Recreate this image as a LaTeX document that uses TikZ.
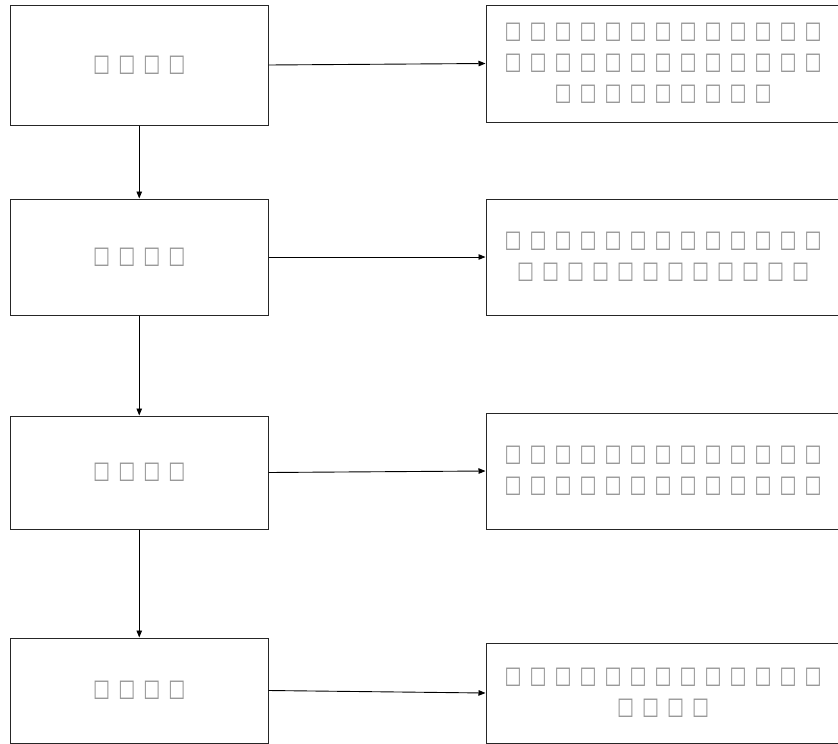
\documentclass[tikz,border=0pt]{standalone}
\usepackage{fontspec}
\newfontfamily\symfont[FakeStretch=0.75]{DejaVu Sans}
\usetikzlibrary{arrows.meta}
\newcount\tfcnt
\newcommand\tsq{\makebox[25pt]{□}}
\newcommand\trow[1]{\tfcnt=0 \loop\ifnum\tfcnt<#1 \tsq\advance\tfcnt by 1 \repeat}
\tikzset{
  box/.style={draw=black!85, line width=1pt, rectangle, inner sep=0pt, text=black!42,
    font=\symfont\fontsize{24pt}{31pt}\selectfont, align=center},
  lbox/.style={box, minimum width=257.5pt},
  rbox/.style={box, minimum width=354pt},
  arr/.style={line width=0.9pt, draw=black, -{Triangle[length=7pt,width=5.5pt]}}
}
\begin{document}
\begin{tikzpicture}[x=1pt,y=-1pt]
\useasboundingbox (0,0) rectangle (838,744);
\node[lbox, minimum height=120pt] (L1) at (139.25,65) {\trow{4}};
\node[lbox, minimum height=116pt] (L2) at (139.25,257) {\trow{4}};
\node[lbox, minimum height=113pt] (L3) at (139.25,472.5) {\trow{4}};
\node[lbox, minimum height=105pt] (L4) at (139.25,690.5) {\trow{4}};
\node[rbox, minimum height=117pt] (R1) at (663,63.5) {\trow{13}\\\trow{13}\\\trow{9}};
\node[rbox, minimum height=116pt] (R2) at (663,257) {\trow{13}\\\trow{12}};
\node[rbox, minimum height=116pt] (R3) at (663,471) {\trow{13}\\\trow{13}};
\node[rbox, minimum height=100pt] (R4) at (663,693) {\trow{13}\\\trow{4}};
\draw[arr] (L1.south) -- (L2.north);
\draw[arr] (L2.south) -- (L3.north);
\draw[arr] (L3.south) -- (L4.north);
\draw[arr] (L1.east) -- (R1.west);
\draw[arr] (L2.east) -- (R2.west);
\draw[arr] (L3.east) -- (R3.west);
\draw[arr] (L4.east) -- (R4.west);
\end{tikzpicture}
\end{document}
